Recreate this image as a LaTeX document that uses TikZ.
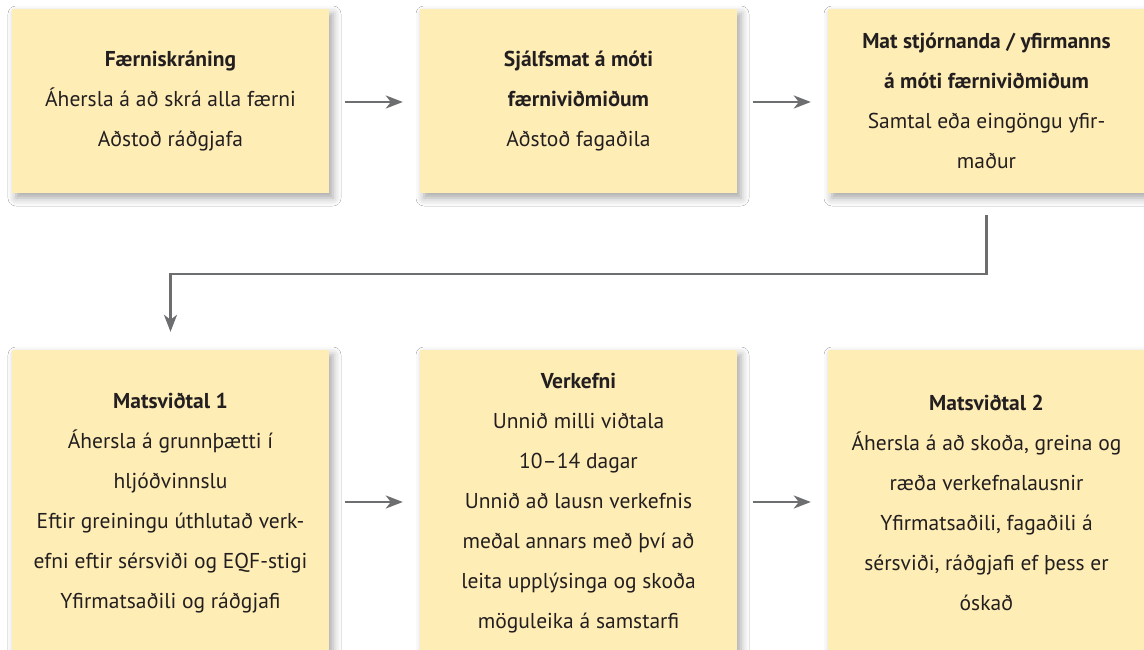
\documentclass[tikz,border=0pt]{standalone}
\usepackage{fontspec}
\setmainfont{PT Sans}
\usetikzlibrary{shadows.blur,arrows.meta}
\definecolor{boxfill}{RGB}{254,237,181}
\definecolor{linegray}{RGB}{109,110,112}
\definecolor{txt}{RGB}{35,31,32}
\begin{document}
\begin{tikzpicture}[x=1pt,y=-1pt,
  stepbox/.style={fill=boxfill, draw=none, minimum width=317pt, align=center, text=txt,
    font=\fontsize{21.5}{40}\selectfont, inner sep=0pt,
    blur shadow={shadow xshift=4pt, shadow yshift=-5pt, shadow blur radius=8pt, shadow opacity=35}},
  topbox/.style={stepbox, minimum height=184pt},
  botbox/.style={stepbox, minimum height=306pt},
  arr/.style={draw=linegray, line width=2.6pt, -{Stealth[length=17pt,width=13pt,inset=5pt]}}]
\useasboundingbox (0,0) rectangle (1144,650);
\fill[white] (0,0) rectangle (1144,650);
\node[topbox] (b1) at (170.5,101) {\textbf{Færniskráning}\\Áhersla á að skrá alla færni\\Aðstoð ráðgjafa};
\node[topbox] (b2) at (578.5,101) {\textbf{Sjálfsmat á móti}\\\textbf{færniviðmiðum}\\Aðstoð fagaðila};
\node[topbox] (b3) at (986.5,101) {\textbf{Mat stjórnanda / yfirmanns}\\\textbf{á móti færniviðmiðum}\\Samtal eða eingöngu yfir-\\maður};
\node[botbox] (b4) at (170.5,503) {\textbf{Matsviðtal 1}\\Áhersla á grunnþætti í\\hljóðvinnslu\\Eftir greiningu úthlutað verk-\\efni eftir sérsviði og EQF-stigi\\Yfirmatsaðili og ráðgjafi};
\node[botbox] (b5) at (578.5,503) {\textbf{Verkefni}\\Unnið milli viðtala\\10–14 dagar\\Unnið að lausn verkefnis\\meðal annars með því að\\leita upplýsinga og skoða\\möguleika á samstarfi};
\node[botbox] (b6) at (986.5,503) {\textbf{Matsviðtal 2}\\Áhersla á að skoða, greina og\\ræða verkefnalausnir\\Yfirmatsaðili, fagaðili á\\sérsviði, ráðgjafi ef þess er\\óskað};
\draw[arr] ([xshift=16pt,yshift=-1pt]b1.east) -- ([xshift=-17pt,yshift=-1pt]b2.west);
\draw[arr] ([xshift=16pt,yshift=-1pt]b2.east) -- ([xshift=-17pt,yshift=-1pt]b3.west);
\draw[arr] ([xshift=16pt,yshift=1pt]b4.east) -- ([xshift=-17pt,yshift=1pt]b5.west);
\draw[arr] ([xshift=16pt,yshift=1pt]b5.east) -- ([xshift=-17pt,yshift=1pt]b6.west);
\coordinate (c1) at ([yshift=-22pt]b3.south);
\coordinate (c2) at ([yshift=18pt]b4.north);
\draw[arr] (c1) -- (c1 |- 0,274) -| (c2);
\end{tikzpicture}
\end{document}
